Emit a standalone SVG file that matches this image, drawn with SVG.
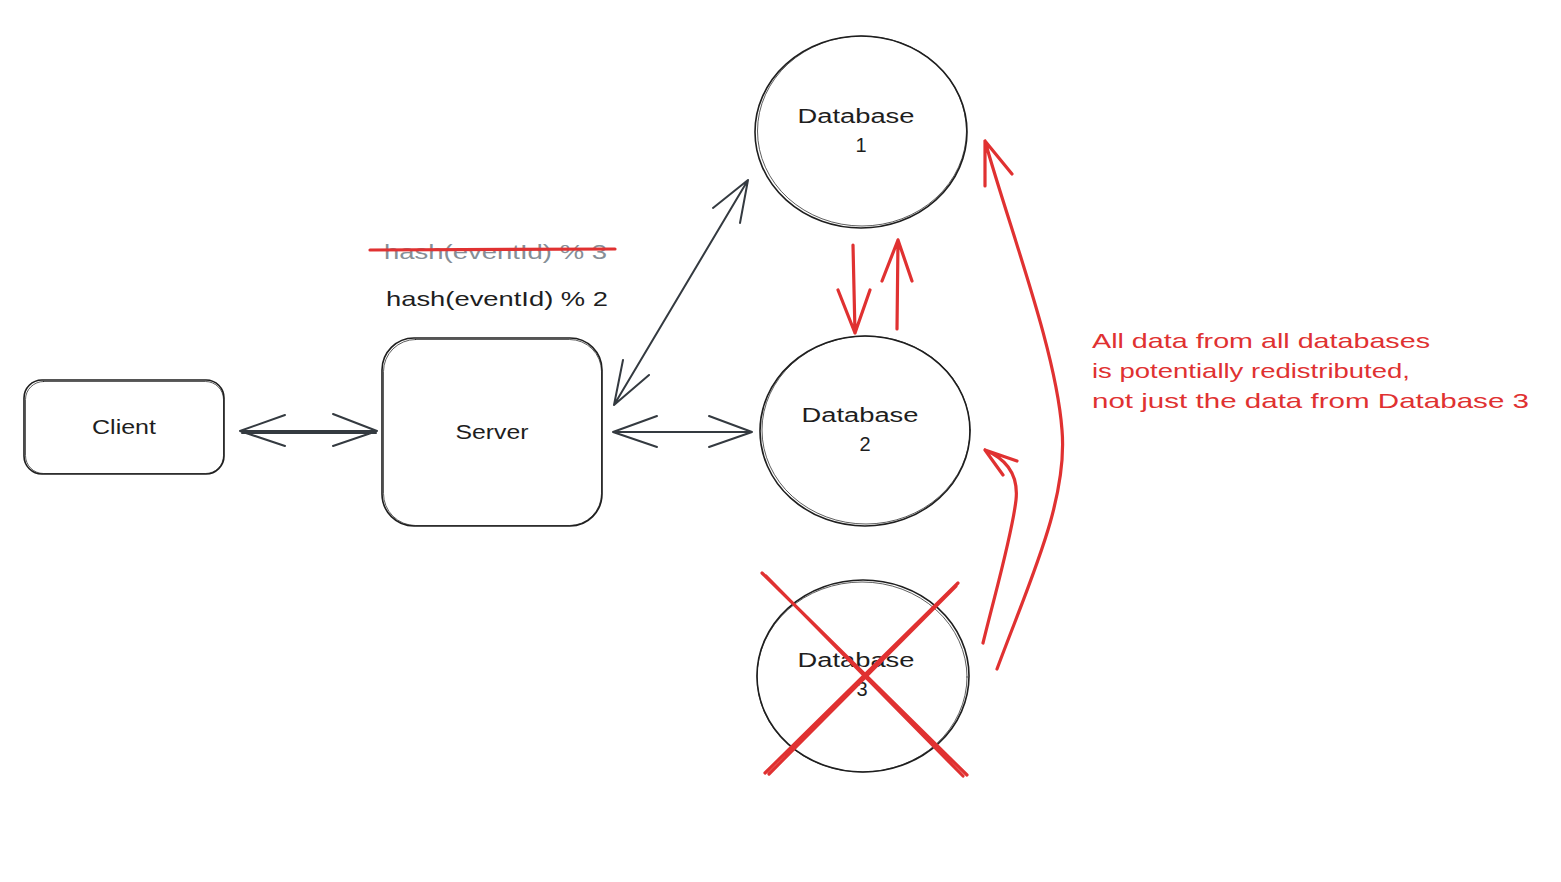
<svg xmlns="http://www.w3.org/2000/svg" width="1561" height="882" viewBox="0 0 1561 882">
<style>
.shape{fill:none;stroke:#1e1e1e;stroke-width:1.6;stroke-linecap:round;stroke-linejoin:round}
.shape2{fill:none;stroke:#1e1e1e;stroke-width:0.9;stroke-linecap:round;opacity:0.8}
.conn{fill:none;stroke:#343a40;stroke-width:2;stroke-linecap:round;stroke-linejoin:round}
.red{fill:none;stroke:#e03131;stroke-width:3.2;stroke-linecap:round;stroke-linejoin:round}
.lbl{font-family:"Liberation Sans",Arial,sans-serif;font-size:20px;fill:#1e1e1e;text-anchor:middle}
.note{font-family:"Liberation Sans",Arial,sans-serif;font-size:21px}
</style>
<rect width="1561" height="882" fill="#ffffff"/>

<g id="client">
  <rect class="shape" x="24" y="380" width="200" height="94" rx="18"/>
  <rect class="shape2" x="25.5" y="381.5" width="198" height="92" rx="18"/>
  <text class="lbl" x="124" y="434" textLength="64" lengthAdjust="spacingAndGlyphs">Client</text>
</g>

<g id="server">
  <rect class="shape" x="382" y="338" width="220" height="188" rx="32"/>
  <rect class="shape2" x="383.5" y="339.5" width="218" height="186" rx="32"/>
  <text class="lbl" x="492" y="439" textLength="73" lengthAdjust="spacingAndGlyphs">Server</text>
</g>

<g id="database1">
  <ellipse class="shape" cx="861" cy="132" rx="106" ry="96"/>
  <ellipse class="shape2" cx="862" cy="131" rx="104.5" ry="95"/>
  <text class="lbl" x="856" y="123" textLength="117" lengthAdjust="spacingAndGlyphs">Database</text>
  <text class="lbl" x="861" y="152">1</text>
</g>

<g id="database2">
  <ellipse class="shape" cx="865" cy="431" rx="105" ry="95"/>
  <ellipse class="shape2" cx="866" cy="430" rx="104" ry="94"/>
  <text class="lbl" x="860" y="422" textLength="117" lengthAdjust="spacingAndGlyphs">Database</text>
  <text class="lbl" x="865" y="451">2</text>
</g>

<g id="database3">
  <ellipse class="shape" cx="863" cy="676" rx="106" ry="96"/>
  <ellipse class="shape2" cx="862" cy="677" rx="105" ry="95"/>
  <text class="lbl" x="856" y="667" textLength="117" lengthAdjust="spacingAndGlyphs">Database</text>
  <text class="lbl" x="862" y="696">3</text>
</g>

<g id="formula">
  <text class="note" x="384" y="259" fill="#868e96" textLength="223" lengthAdjust="spacingAndGlyphs">hash(eventId) % 3</text>
  <path class="red" d="M370,250 L615,249" stroke-width="2.6"/>
  <text class="note" x="386" y="306" fill="#1e1e1e" textLength="222" lengthAdjust="spacingAndGlyphs">hash(eventId) % 2</text>
</g>

<g id="annotation" fill="#e03131">
  <text class="note" x="1092" y="348" textLength="338" lengthAdjust="spacingAndGlyphs">All data from all databases</text>
  <text class="note" x="1092" y="378" textLength="318" lengthAdjust="spacingAndGlyphs">is potentially redistributed,</text>
  <text class="note" x="1092" y="408" textLength="437" lengthAdjust="spacingAndGlyphs">not just the data from Database 3</text>
</g>

<g id="connectors">
  <!-- Client <-> Server -->
  <path class="conn" d="M240,431 L377,431 M240,431 L285,415 M240,431 L285,446 M377,431 L333,414 M377,431 L333,446"/>
  <path class="conn" d="M242,433 L376,433" stroke-width="1"/>
  <!-- Server <-> Database 2 -->
  <path class="conn" d="M613,432 L752,432 M613,432 L657,416 M613,432 L657,447 M752,432 L709,416 M752,432 L709,447"/>
  <!-- Server <-> Database 1 -->
  <path class="conn" d="M614,405 L748,180 M748,180 L713,208 M748,180 L740,223 M614,405 L623,360 M614,405 L649,375"/>
  <!-- red arrows between Database 1 and Database 2 -->
  <path class="red" d="M853,245 L855,333 M855,333 L838,290 M855,333 L870,290"/>
  <path class="red" d="M897,329 L898,240 M898,240 L882,281 M898,240 L912,281"/>
  <!-- red curve Database 3 to Database 2 -->
  <path class="red" d="M983,643 C996,590 1012,535 1016,500 C1019,472 1004,458 985,450 M985,450 L1017,461 M985,450 L1003,475"/>
  <!-- red curve Database 3 to Database 1 -->
  <path class="red" d="M997,669 C1030,580 1068,500 1062,430 C1056,350 1010,230 985,141 M985,141 L985,186 M985,141 L1012,174"/>
  <!-- red X over Database 3 -->
  <path class="red" d="M762,573 L967,775 M766,576 L963,776 M765,773 L958,583 M769,774 L956,586" stroke-width="2.6"/>
</g>
</svg>
